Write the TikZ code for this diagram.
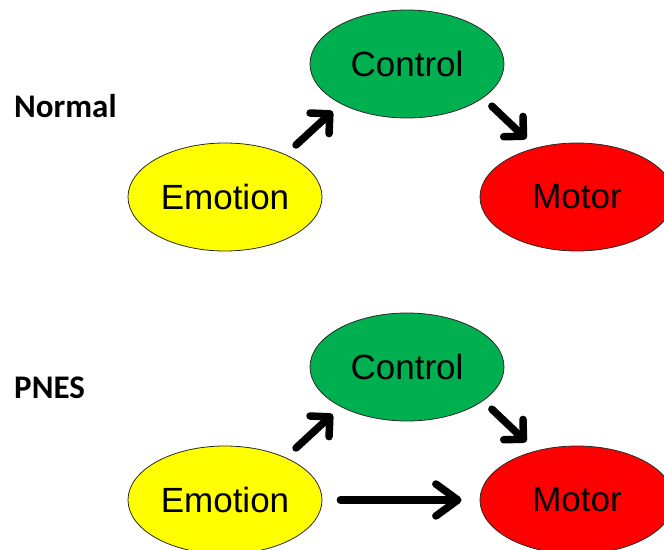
\documentclass[tikz,border=0pt]{standalone}
\usepackage{fontspec}
\setmainfont{Liberation Sans}
\newfontfamily\tagfont{Carlito}
\usetikzlibrary{arrows.meta,shapes.geometric}
\definecolor{ctlgreen}{HTML}{00B050}
\definecolor{emoyellow}{HTML}{FFFF00}
\definecolor{motred}{HTML}{FF0000}
\definecolor{rim}{HTML}{2A2A2A}
\tikzset{
  region/.style={ellipse,draw=rim,line width=0.8pt,inner sep=0pt,
    minimum width=194pt,minimum height=108pt,
    font=\fontsize{35}{40}\selectfont},
  emotion/.style={region,fill=emoyellow},
  control/.style={region,fill=ctlgreen},
  motor/.style={region,fill=motred},
  tag/.style={anchor=base west,inner sep=0pt,
    font=\tagfont\bfseries\fontsize{33}{38}\selectfont},
  push/.style={-{Straight Barb[length=14pt,width=28pt,round]},
    line width=7.5pt,line cap=round},
  longpush/.style={-{Straight Barb[length=22pt,width=32pt,round]},
    line width=7.5pt,line cap=round,shorten <=18pt,shorten >=18pt}
}

\begin{document}
\begin{tikzpicture}[x=1pt,y=-1pt]
  \useasboundingbox[fill=white] (0,0) rectangle (664,549);
  % normal pathway
  \node[tag] (normal) at (14,117) {Normal};
  \node[control] (ctla) at (407,64) {Control};
  \node[emotion] (emoa) at (225,197) {Emotion};
  \node[motor] (mota) at (577,197) {Motor};
  \draw[push,shorten <=14pt,shorten >=11pt] (emoa.35) -- (ctla.211);
  \draw[push,shorten <=12pt,shorten >=13pt] (ctla.-24) -- (mota.130);
  % PNES pathway
  \node[tag] (pnes) at (14,398) {PNES};
  \node[control] (ctlb) at (407,367) {Control};
  \node[emotion] (emob) at (225,500) {Emotion};
  \node[motor] (motb) at (577,500) {Motor};
  \draw[push,shorten <=14pt,shorten >=11pt] (emob.35) -- (ctlb.211);
  \draw[push,shorten <=12pt,shorten >=13pt] (ctlb.-24) -- (motb.130);
  \draw[longpush] (emob) -- (motb);
\end{tikzpicture}
\end{document}
